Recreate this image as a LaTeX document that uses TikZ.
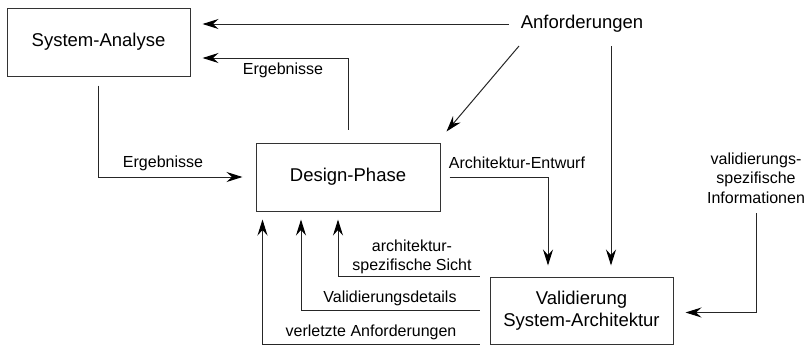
\documentclass[tikz,border=0pt]{standalone}
\usepackage{fontspec}
\setmainfont{Liberation Sans}
\usetikzlibrary{arrows.meta,calc}

\tikzset{
  bigtext/.style={font=\fontsize{18.5}{22.5}\selectfont},
  smalltext/.style={font=\fontsize{16}{19.5}\selectfont, align=center, inner sep=0pt},
  block/.style={draw=black!80, line width=1pt, rectangle, bigtext, align=center},
  flow/.style={draw=black!85, line width=1pt,
    -{Stealth[length=16pt, width=10pt, inset=5.5pt, color=black]}},
}

\begin{document}
\begin{tikzpicture}[x=1pt, y=-1pt]
  \useasboundingbox (0,0) rectangle (808,346);

  % main blocks
  \node[block, minimum width=183pt, minimum height=68pt] (sa) at (98.5,42) {System-Analyse};
  \node[block, minimum width=184pt, minimum height=68pt] (dp) at (348,177) {Design-Phase};
  \node[block, minimum width=183pt, minimum height=67pt] (va) at (581.5,310.5)
    {Validierung\\System-Architektur};

  % external inputs
  \node[bigtext, inner xsep=12pt, inner ysep=0pt] (an) at (582,24) {Anforderungen};
  \node[smalltext] (vi) at (756,178) {validierungs-\\spezifische\\Informationen};

  % start points below the requirements label
  \coordinate (anL) at ($(an.center)+(-63,22)$);
  \coordinate (anR) at ($(an.center)+(29,22)$);
  \coordinate (viS) at ($(vi.center)+(0,35)$);

  % requirements
  \draw[flow, shorten >=12pt] (an) -- (sa.east |- an);
  \draw[flow] (anL) -- ($(dp.north east)+(6,-11)$);
  \draw[flow, shorten >=11pt] (anR) -- (anR |- va.north);

  % results between analysis and design
  \draw[flow, shorten <=13pt, shorten >=12pt] (dp.north) |- (sa.east |- 0,58);
  \node[smalltext] (erg1) at (283,70) {Ergebnisse};
  \draw[flow, shorten <=9pt, shorten >=13pt] (sa.south) |- (dp.west);
  \node[smalltext] (erg2) at (163,163) {Ergebnisse};

  % architecture draft to validation
  \draw[flow, shorten <=9pt, shorten >=11pt] (dp.east) -| ($(va.north)+(-33.5,0)$);
  \node[smalltext] (ae) at (517,163) {Architektur-Entwurf};

  % validation-specific information
  \draw[flow, shorten >=12pt] (viS) |- ($(va.east)+(0,2)$);

  % feedback from validation to design
  \draw[flow, shorten <=10pt, shorten >=8pt] (va.north west) -| ($(dp.south)+(-10,0)$);
  \node[smalltext] (asS) at (412,257) {architektur-\\spezifische Sicht};
  \draw[flow, shorten <=10pt, shorten >=8pt] (va.west) -| ($(dp.south)+(-47,0)$);
  \node[smalltext] (vd) at (390,298) {Validierungsdetails};
  \draw[flow, shorten <=10pt, shorten >=8pt] (va.south west) -| ($(dp.south west)+(7,0)$);
  \node[smalltext] (vA) at (371,332) {verletzte Anforderungen};
\end{tikzpicture}
\end{document}
